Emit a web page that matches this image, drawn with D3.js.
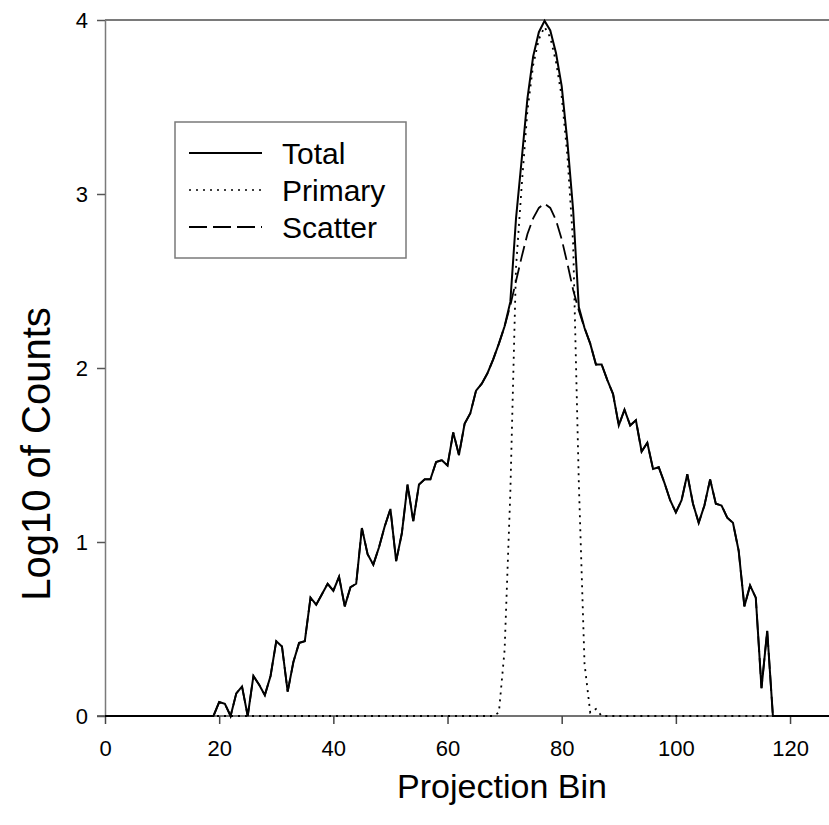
<!DOCTYPE html>
<html>
<head>
<meta charset="utf-8">
<script src="https://cdn.jsdelivr.net/npm/d3@7"></script>
<style>
  html, body { margin: 0; padding: 0; background: #fff; }
  svg { display: block; font-family: "Liberation Sans", Arial, sans-serif; }
</style>
</head>
<body>
<svg id="chart" width="829" height="825"></svg>
<script>
// ---- Data ----
const bins = d3.range(0, 128); // projection bin index 0..127

const totalValues = [
  0,0,0,0,0,0,0,0,0,0, 0,0,0,0,0,0,0,0,0,0,            // 0-19
  0.08,0.07,0,0.13,0.17,0,0.23,0.18,0.12,0.23,          // 20-29
  0.43,0.40,0.14,0.31,0.42,0.43,0.68,0.64,0.70,0.76,    // 30-39
  0.72,0.80,0.63,0.74,0.76,1.08,0.93,0.87,0.97,1.09,    // 40-49
  1.19,0.89,1.05,1.33,1.12,1.33,1.36,1.36,1.46,1.47,    // 50-59
  1.44,1.63,1.50,1.68,1.74,1.87,1.91,1.97,2.05,2.14,    // 60-69
  2.24,2.38,2.86,3.20,3.55,3.79,3.93,3.995,3.94,3.81,   // 70-79
  3.62,3.30,2.91,2.35,2.23,2.14,2.02,2.02,1.93,1.85,    // 80-89
  1.67,1.76,1.67,1.70,1.52,1.57,1.42,1.43,1.34,1.24,    // 90-99
  1.17,1.24,1.39,1.22,1.11,1.21,1.36,1.22,1.21,1.14,    // 100-109
  1.11,0.95,0.63,0.75,0.68,0.16,0.49,0,0,0,             // 110-119
  0,0,0,0,0,0,0,0                                       // 120-127
];

const primaryValues = [
  0,0,0,0,0,0,0,0,0,0, 0,0,0,0,0,0,0,0,0,0,            // 0-19
  0,0,0,0,0,0,0,0,0,0, 0,0,0,0,0,0,0,0,0,0,            // 20-39
  0,0,0,0,0,0,0,0,0,0, 0,0,0,0,0,0,0,0,0,0,            // 40-59
  0,0,0,0,0,0,0,0,0,0.02,                               // 60-69
  0.38,1.28,2.58,3.05,3.48,3.74,3.89,3.96,3.90,3.76,    // 70-79
  3.56,3.22,2.72,1.34,0.30,0.02,0.04,0,0,0,             // 80-89
  0,0,0,0,0,0,0,0,0,0, 0,0,0,0,0,0,0,0,0,0,            // 90-109
  0,0,0,0,0,0,0,0,0,0, 0,0,0,0,0,0,0,0                 // 110-127
];

const scatterValues = [
  0,0,0,0,0,0,0,0,0,0, 0,0,0,0,0,0,0,0,0,0,            // 0-19
  0.08,0.07,0,0.13,0.17,0,0.23,0.18,0.12,0.23,          // 20-29
  0.43,0.40,0.14,0.31,0.42,0.43,0.68,0.64,0.70,0.76,    // 30-39
  0.72,0.80,0.63,0.74,0.76,1.08,0.93,0.87,0.97,1.09,    // 40-49
  1.19,0.89,1.05,1.33,1.12,1.33,1.36,1.36,1.46,1.47,    // 50-59
  1.44,1.63,1.50,1.68,1.74,1.87,1.91,1.97,2.05,2.14,    // 60-69
  2.24,2.36,2.50,2.64,2.77,2.86,2.92,2.945,2.92,2.85,   // 70-79
  2.74,2.60,2.45,2.33,2.23,2.14,2.02,2.02,1.93,1.85,    // 80-89
  1.67,1.76,1.67,1.70,1.52,1.57,1.42,1.43,1.34,1.24,    // 90-99
  1.17,1.24,1.39,1.22,1.11,1.21,1.36,1.22,1.21,1.14,    // 100-109
  1.11,0.95,0.63,0.75,0.68,0.16,0.49,0,0,0,             // 110-119
  0,0,0,0,0,0,0,0                                       // 120-127
];

const xTickValues = [0, 20, 40, 60, 80, 100, 120];
const yTickValues = [0, 1, 2, 3, 4];
const xTitle = "Projection Bin";
const yTitle = "Log10 of Counts";
const legendLabels = ["Total", "Primary", "Scatter"];

// ---- Layout ----
const svg = d3.select("#chart");
const x = d3.scaleLinear().domain([0, 127]).range([105, 830]);
const y = d3.scaleLinear().domain([0, 4]).range([716, 20]);

const axisColor = "#7a7a7a";

// top border
svg.append("line")
  .attr("x1", x(0)).attr("x2", 829)
  .attr("y1", y(4)).attr("y2", y(4))
  .attr("stroke", axisColor).attr("stroke-width", 2);

// x axis
const gx = svg.append("g")
  .attr("transform", `translate(0,${y(0)})`)
  .call(d3.axisBottom(x).tickValues(xTickValues).tickSize(8).tickPadding(16)
        .tickFormat(d3.format("d")).tickSizeOuter(0));
gx.select(".domain").attr("stroke", "#444").attr("stroke-width", 1.5)
  .attr("d", `M${x(0) - 8},0H829`);
gx.selectAll(".tick line").attr("stroke", "#444").attr("stroke-width", 1.5);
gx.selectAll(".tick text").attr("font-size", 22).attr("fill", "#000")
  .attr("font-family", "Liberation Sans, Arial, sans-serif");

// y axis
const gy = svg.append("g")
  .attr("transform", `translate(${x(0)},0)`)
  .call(d3.axisLeft(y).tickValues(yTickValues).tickSize(8).tickPadding(9)
        .tickFormat(d3.format("d")).tickSizeOuter(0));
gy.select(".domain").attr("stroke", axisColor).attr("stroke-width", 1.5);
gy.selectAll(".tick line").attr("stroke", "#555").attr("stroke-width", 1.5);
gy.selectAll(".tick text").attr("font-size", 22).attr("fill", "#000")
  .attr("font-family", "Liberation Sans, Arial, sans-serif");

// titles
svg.append("text")
  .attr("x", 502).attr("y", 798)
  .attr("text-anchor", "middle")
  .attr("font-size", 34)
  .text(xTitle);

svg.append("text")
  .attr("transform", "translate(50,454) rotate(-90)")
  .attr("text-anchor", "middle")
  .attr("font-size", 40)
  .text(yTitle);

// ---- Series ----
const line = d3.line().x((d, i) => x(bins[i])).y(d => y(d));

const series = [
  { name: "Primary", values: primaryValues, dash: "2,5", width: 1.8 },
  { name: "Scatter", values: scatterValues, dash: "16,6", width: 1.8 },
  { name: "Total", values: totalValues, dash: null, width: 2 }
];

svg.append("g").selectAll("path")
  .data(series)
  .join("path")
  .attr("d", d => line(d.values))
  .attr("fill", "none")
  .attr("stroke", "#000")
  .attr("stroke-width", d => d.width)
  .attr("stroke-linejoin", "miter")
  .attr("stroke-dasharray", d => d.dash);

// ---- Legend ----
const legendStyles = {
  Total: { dash: null, width: 2 },
  Primary: { dash: "2,5", width: 1.5 },
  Scatter: { dash: "18,6", width: 2 }
};
const lg = svg.append("g");
lg.append("rect")
  .attr("x", 175).attr("y", 122).attr("width", 231).attr("height", 136)
  .attr("fill", "#fff").attr("stroke", axisColor).attr("stroke-width", 1.5);

const rowY = [153, 190, 227];
legendLabels.forEach((lab, i) => {
  lg.append("line")
    .attr("x1", 189).attr("x2", 262)
    .attr("y1", rowY[i]).attr("y2", rowY[i])
    .attr("stroke", "#000")
    .attr("stroke-width", legendStyles[lab].width)
    .attr("stroke-dasharray", legendStyles[lab].dash);
  lg.append("text")
    .attr("x", 282).attr("y", rowY[i] + 11)
    .attr("font-size", 30)
    .text(lab);
});
</script>
</body>
</html>
